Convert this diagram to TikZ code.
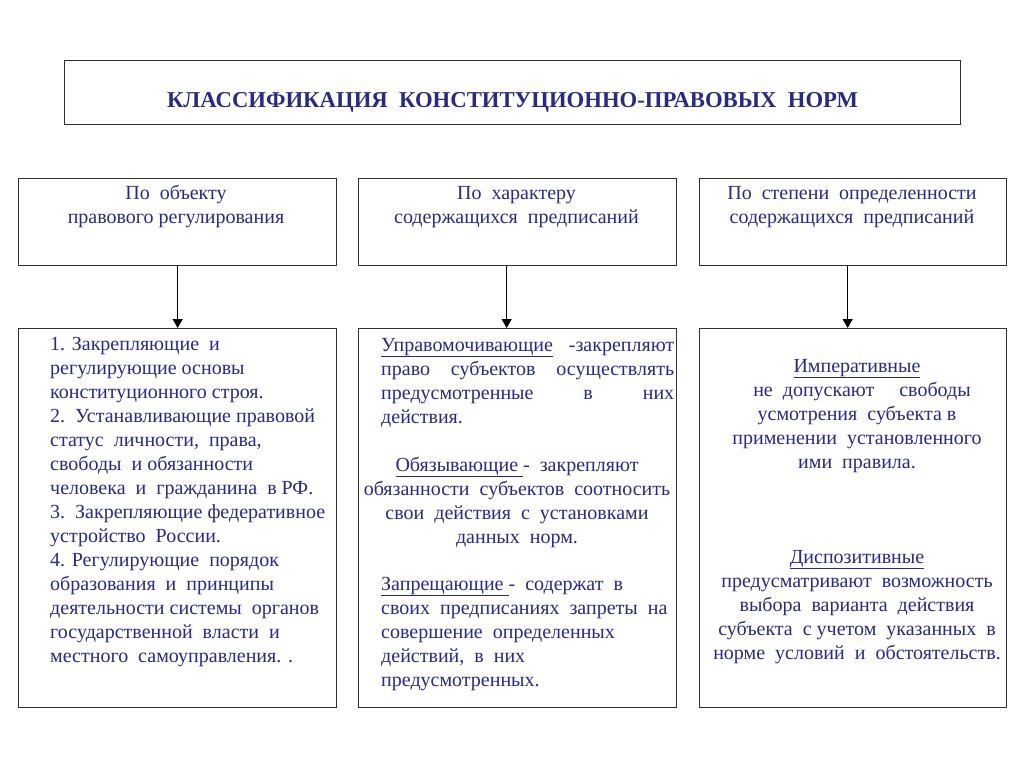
\documentclass[tikz,border=0pt]{standalone}
\usepackage{fontspec}
\setmainfont{Liberation Serif}
\usetikzlibrary{arrows.meta}
\definecolor{txt}{RGB}{42,42,130}
\definecolor{frame}{RGB}{50,50,50}
\begin{document}
\begin{tikzpicture}[x=1pt,y=-1pt,
  frm/.style={draw=frame, line width=1.3pt, anchor=north west, inner sep=0pt},
  body/.style={font=\fontsize{20}{24}\selectfont, text=txt, inner sep=0pt},
  arr/.style={draw=black, line width=1.2pt, -{Triangle[width=10pt,length=9pt]}}]
\useasboundingbox[fill=white] (0,0) rectangle (1024,767);
% title
\node[frm, minimum width=896pt, minimum height=64pt] (t) at (64,60) {};
\node[font=\fontsize{22.7}{26}\selectfont\bfseries, text=txt, inner sep=0pt, anchor=base] (tt) at (512.5,108) {КЛАССИФИКАЦИЯ\ \ КОНСТИТУЦИОННО-ПРАВОВЫХ\ \ НОРМ};
% header boxes
\node[frm, minimum width=318pt, minimum height=87pt] (k1) at (18,178) {};
\node[frm, minimum width=318pt, minimum height=87pt] (k2) at (358,178) {};
\node[frm, minimum width=307pt, minimum height=87pt] (k3) at (699,178) {};
\node[body, align=center, anchor=base] (h1) at (176,223) {По\ \ объекту\\правового регулирования};
\node[body, align=center, anchor=base] (h2) at (516.5,223) {По\ \ характеру\\содержащихся\ \ предписаний};
\node[body, align=center, anchor=base] (h3) at (852,223) {По\ \ степени\ \ определенности\\содержащихся\ \ предписаний};
% detail boxes
\node[frm, minimum width=318pt, minimum height=379pt] (d1) at (18,328) {};
\node[frm, minimum width=318pt, minimum height=379pt] (d2) at (358,328) {};
\node[frm, minimum width=307pt, minimum height=379pt] (d3) at (699,328) {};
% arrows
\draw[arr] (k1.south) -- (d1.north);
\draw[arr] ([xshift=-11pt]k2.south) -- ([xshift=-11pt]d2.north);
\draw[arr] ([xshift=-5.5pt]k3.south) -- ([xshift=-5.5pt]d3.north);
% box 1 text
\node[body, align=left, anchor=base west] (b1) at (50,662) {1. Закрепляющие\ \ и\\регулирующие основы\\конституционного строя.\\2.\ \ Устанавливающие правовой\\статус\ \ личности,\ \ права,\\свободы\ \ и обязанности\\человека\ \ и\ \ гражданина\ \ в РФ.\\3.\ \ Закрепляющие федеративное\\устройство\ \ России.\\4. Регулирующие\ \ порядок\\образования\ \ и\ \ принципы\\деятельности системы\ \ органов\\государственной\ \ власти\ \ и\\местного\ \ самоуправления. .};
% box 2 text
\node[body, align=left, anchor=base west] (b2a) at (381,423) {\hbox to 293pt{\underline{Управомочивающие}\hfill-закрепляют}\\\hbox to 293pt{право\hfill субъектов\hfill осуществлять}\\\hbox to 293pt{предусмотренные\hfill в\hfill них}\\действия.};
\node[body, align=center, anchor=base] (b2b) at (517,543) {\underline{Обязывающие }-\ \ закрепляют\\обязанности\ \ субъектов\ \ соотносить\\свои\ \ действия\ \ с\ \ установками\\данных\ \ норм.};
\node[body, align=left, anchor=base west] (b2c) at (381,686) {\underline{Запрещающие }-\ \ содержат\ \ в\\своих\ \ предписаниях\ \ запреты\ \ на\\совершение\ \ определенных\\действий,\ \ в\ \ них\\предусмотренных.};
% box 3 text
\node[body, align=center, anchor=base] (b3a) at (857,468) {\underline{Императивные}\\\ \ не\ \ допускают\ \ \ \ \ свободы\\усмотрения\ \ субъекта в\\применении\ \ установленного\\ими\ \ правила.};
\node[body, align=center, anchor=base] (b3b) at (857,659) {\underline{Диспозитивные}\\предусматривают\ \ возможность\\выбора\ \ варианта\ \ действия\\субъекта\ \ с учетом\ \ указанных\ \ в\\норме\ \ условий\ \ и\ \ обстоятельств.};
\end{tikzpicture}
\end{document}
